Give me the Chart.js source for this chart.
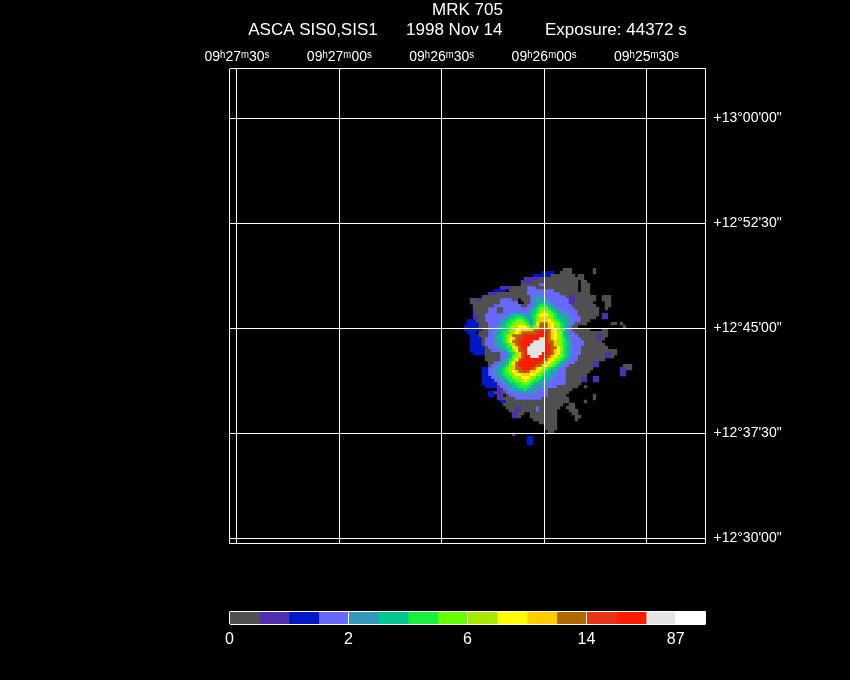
<!DOCTYPE html>
<html>
<head>
<meta charset="utf-8">
<title>MRK 705</title>
<script src="https://cdn.jsdelivr.net/npm/chart.js@4/dist/chart.umd.min.js"></script>
<style>
  html, body { margin: 0; padding: 0; background: #000; }
  #wrap { position: relative; width: 850px; height: 680px; overflow: hidden; }
  #image, #bar { position: absolute; left: 0; }
  #image { top: 0; }
  #bar { top: 590px; }
</style>
</head>
<body>
<div id="wrap">
  <canvas id="image" width="850" height="590"></canvas>
  <canvas id="bar" width="850" height="90"></canvas>
</div>
<script>
const titleLines = ["MRK 705", "ASCA SIS0,SIS1      1998 Nov 14         Exposure: 44372 s"];

// axes: RA in seconds after 09h00m, Dec in arcmin after 12d00m
const raTicks = [1650, 1620, 1590, 1560, 1530];
const raLabels = ["09ʰ27ᵐ30ˢ", "09ʰ27ᵐ00ˢ", "09ʰ26ᵐ30ˢ", "09ʰ26ᵐ00ˢ", "09ʰ25ᵐ30ˢ"];
const decTicks = [780, 772.5, 765, 757.5, 750];
const decLabels = ["+13°00'00\"", "+12°52'30\"", "+12°45'00\"", "+12°37'30\"", "+12°30'00\""];

// colour bar
const barColors = ["#505050", "#5030b0", "#0018c8", "#6868ff", "#3498b8", "#00c88c", "#18f040", "#68ff00",
  "#a8e800", "#ffff00", "#ffcc00", "#b06800", "#e83418", "#ff1c00", "#e4e4e4", "#ffffff"];
const barTicks = [0, 4, 8, 12, 15];
const barLabels = ["0", "2", "6", "14", "87"];

// image cells as [row, firstCol, lastCol], one list per colour level
const gray = [[0,33,35],[0,43,43],[1,32,35],[1,43,43],[2,29,36],[2,38,39],[3,25,37],[3,38,39],[4,22,37],[4,39,40],
  [5,19,37],[5,39,41],[6,16,37],[6,39,41],[7,15,37],[7,39,41],[8,10,41],[9,6,41],[9,42,43],[9,46,48],
  [10,2,17],[10,19,41],[10,42,43],[10,46,48],[11,2,17],[11,20,42],[11,47,48],[12,3,43],[12,47,48],[13,3,44],[13,47,47],
  [14,3,44],[15,3,44],[15,46,47],[16,4,43],[16,46,47],[17,4,41],[18,4,40],[18,49,50],[18,52,52],[19,4,37],[19,53,53],
  [20,5,41],[20,46,47],[21,5,45],[21,46,47],[22,5,47],[23,5,46],[24,5,45],[25,6,46],[26,6,47],[27,7,50],[28,7,50],
  [29,7,49],[30,7,46],[31,8,44],[32,8,43],[32,53,55],[33,8,42],[33,53,55],[34,8,41],[35,8,40],[36,8,39],[37,8,39],
  [37,40,40],[38,8,38],[39,10,37],[39,40,40],[40,12,35],[41,13,34],[42,14,33],[42,43,43],[43,13,34],[43,43,43],
  [44,13,34],[44,40,40],[45,13,32],[45,35,36],[46,14,31],[46,34,36],[47,15,30],[47,35,37],[48,16,19],[48,22,30],[48,36,37],
  [49,17,18],[49,22,30],[49,37,38],[50,23,30],[50,37,37],[51,25,30],[52,27,30],[53,27,30],[54,28,29]];
const purple = [[3,20,24],[4,19,22],[6,12,15],[8,8,10],[9,35,36],[10,4,5],[10,35,36],[11,35,36],[14,3,3],[15,3,3],[15,46,47],
  [16,3,4],[16,46,47],[22,44,45],[23,44,45],[28,47,48],[29,47,48],[31,43,44],[32,43,44],[33,52,53],[34,52,53],[35,52,53],
  [36,39,40],[36,43,44],[37,39,40],[37,43,44],[38,11,12],[39,11,12],[40,11,12],[41,10,12],[42,11,12],[43,11,12],
  [46,17,18],[47,17,18],[48,16,17],[49,16,17],[55,16,16]];
const blue = [[1,26,29],[2,23,28],[7,10,13],[17,1,3],[18,1,4],[19,0,4],[20,0,5],[21,1,3],[22,2,4],[23,2,5],[24,2,5],[25,2,5],
  [26,2,6],[27,2,6],[28,3,6],[33,6,8],[34,6,8],[35,6,8],[36,6,9],[37,6,9],[38,6,10],[39,7,10],[41,8,9],[42,8,9],[44,12,13],
  [56,21,22],[57,21,22],[58,21,22]];
const periwinkle = [[5,25,26],[6,21,23],[7,21,29],[8,21,31],[9,22,33],[10,12,15],[10,22,34],[11,12,17],[11,22,34],[12,10,18],[12,21,35],
  [13,8,10],[13,13,36],[14,8,10],[14,13,37],[15,7,37],[16,7,38],[17,7,38],[18,8,36],[19,8,35],[20,8,35],[21,8,36],[22,8,37],
  [23,7,38],[24,7,39],[25,7,39],[26,8,38],[27,9,38],[28,12,38],[29,12,37],[30,12,37],[31,10,36],[32,9,34],[33,8,33],[34,8,33],
  [35,8,33],[36,9,33],[37,10,33],[38,11,33],[39,12,30],[40,13,27],[41,14,27],[42,15,27],[43,17,25],[46,24,24],[47,24,24]];
const teal = [[9,23,26],[10,23,27],[11,23,28],[12,23,29],[13,22,31],[14,22,33],[15,15,34],[16,13,35],[17,12,35],[18,12,35],[19,11,34],
  [20,11,34],[21,10,34],[22,10,35],[23,10,35],[24,10,35],[25,10,35],[26,11,35],[27,12,35],[28,14,35],[29,14,35],[30,13,34],
  [31,12,33],[32,11,32],[33,10,31],[34,10,30],[35,10,30],[36,11,29],[37,12,28],[38,13,27],[39,14,26],[40,15,24],[41,17,23]];
const seaGreen = [[11,25,27],[12,24,28],[13,23,29],[14,22,30],[15,16,19],[15,22,31],[16,15,20],[16,22,32],[17,14,21],[17,23,33],
  [18,13,21],[18,23,33],[19,12,33],[20,12,33],[21,12,33],[22,11,33],[23,11,33],[24,12,34],[25,12,34],[26,13,34],[27,14,34],
  [28,15,34],[29,15,34],[30,14,33],[31,14,32],[32,13,31],[33,12,30],[34,12,28],[35,12,28],[36,13,27],[37,14,25],[38,15,23],
  [39,16,22],[40,18,20]];
const green = [[12,25,27],[13,24,28],[14,24,29],[15,23,30],[16,17,19],[16,23,30],[17,15,20],[17,23,31],[18,14,21],[18,23,32],
  [19,14,32],[20,14,33],[21,13,32],[22,13,32],[23,13,33],[24,13,33],[25,14,33],[26,14,33],[27,15,33],[28,16,33],[29,16,33],
  [30,15,32],[31,15,31],[32,14,30],[33,13,28],[34,13,27],[35,13,26],[36,14,25],[37,15,24],[38,17,22],[39,18,21],[40,20,20]];
const lime = [[13,25,27],[14,25,28],[15,24,29],[16,24,29],[17,17,19],[17,24,30],[18,16,20],[18,24,31],[19,15,21],[19,23,31],
  [20,15,32],[21,15,32],[22,14,32],[23,14,32],[24,14,32],[25,15,32],[26,16,32],[27,16,32],[28,17,32],[29,16,32],[30,16,31],
  [31,15,30],[32,15,29],[33,14,27],[34,14,26],[35,15,25],[36,16,23],[37,17,22],[38,19,21]];
const yellowGreen = [[14,25,27],[15,25,28],[16,25,28],[17,24,29],[18,17,19],[18,24,30],[19,16,21],[19,24,30],[20,16,31],[21,16,31],
  [22,14,31],[23,15,31],[24,15,31],[25,15,31],[26,16,32],[27,17,32],[28,17,31],[29,17,31],[30,17,30],[31,16,29],[32,15,28],
  [33,15,26],[34,15,25],[35,16,24],[36,17,22],[37,19,21]];
const yellow = [[15,25,27],[16,25,27],[17,25,28],[18,24,29],[19,18,20],[19,24,29],[20,17,30],[21,17,30],[22,15,30],[23,15,30],
  [24,15,30],[25,16,30],[26,16,31],[27,17,31],[28,18,31],[29,18,30],[30,17,29],[31,16,28],[32,16,27],[33,16,25],[34,16,24],
  [35,17,23],[36,19,21],[37,20,20]];
const amber = [[16,25,27],[17,25,27],[18,25,28],[19,24,28],[20,19,29],[21,18,29],[22,15,29],[23,16,29],[24,16,30],[25,16,30],
  [26,17,30],[27,18,30],[28,18,30],[29,18,29],[30,18,28],[31,17,27],[32,16,26],[33,16,24],[34,17,23],[35,19,21]];
const brown = [[18,25,27],[19,25,27],[20,23,28],[21,19,28],[22,16,28],[23,17,28],[24,16,29],[25,17,29],[26,18,30],[27,18,29],
  [28,19,29],[29,19,28],[30,18,27],[31,17,26],[32,17,25],[33,17,23],[34,18,21]];
const orangeRed = [[20,25,27],[21,24,27],[22,19,27],[23,18,27],[24,18,27],[25,18,28],[26,19,28],[27,19,28],[28,20,28],[29,20,27],
  [30,19,26],[31,18,25],[32,18,23],[33,19,22],[34,20,20]];
const red = [[21,25,27],[22,20,27],[23,20,27],[24,19,27],[25,19,28],[26,19,28],[27,20,28],[28,20,28],[29,20,27],[30,19,25],
  [31,18,24],[32,18,23],[33,19,21]];
const lightGray = [[23,25,26],[24,23,26],[25,22,26],[26,21,26],[27,21,26],[28,21,25],[29,22,24]];

const levels = [gray, purple, blue, periwinkle, teal, seaGreen, green, lime, yellowGreen, yellow, amber, brown, orangeRed, red, lightGray];

// cell 0,0 of the image and the size of one cell in axis units
const raStart = 1583.02, raStep = 0.879;
const decStart = 769.21, decStep = 0.2143;

function buildDatasets() {
  const cells = {};
  levels.forEach((spans, lvl) => {
    spans.forEach(([row, c0, c1]) => {
      for (let c = c0; c <= c1; c++) cells[row + "," + c] = lvl;
    });
  });
  const points = levels.map(() => []);
  Object.entries(cells).forEach(([key, lvl]) => {
    const [row, col] = key.split(",").map(Number);
    points[lvl].push({ x: raStart - col * raStep, y: decStart - row * decStep });
  });
  return points.map((data, lvl) => ({
    data,
    pointStyle: "rect",
    pointRadius: 2.4,
    pointBorderWidth: 0,
    pointBackgroundColor: barColors[lvl],
    showLine: false
  }));
}

new Chart(document.getElementById("image"), {
  type: "scatter",
  data: { datasets: buildDatasets() },
  options: {
    responsive: false,
    animation: false,
    devicePixelRatio: 1,
    layout: { padding: { left: 229.5, right: 64.5, top: 0, bottom: 46.5 } },
    plugins: {
      legend: { display: false },
      tooltip: { enabled: false },
      title: {
        display: true,
        fullSize: false,
        text: titleLines,
        color: "#fff",
        padding: { top: 0, bottom: 0 },
        font: { family: "Liberation Sans", size: 17, weight: "normal", lineHeight: 1.18 }
      }
    },
    scales: {
      x: {
        type: "linear",
        position: "top",
        reverse: true,
        min: 1512.69,
        max: 1652.17,
        afterBuildTicks: s => { s.ticks = [1652.17, ...raTicks, 1512.69].map(v => ({ value: v })); },
        afterFit: s => { s.height = 28.5; },
        grid: { color: "#fff", lineWidth: 1, drawTicks: false, z: 1 },
        border: { display: false },
        ticks: {
          color: "#fff",
          font: { family: "Liberation Sans", size: 14 },
          padding: 3,
          maxRotation: 0,
          autoSkip: false,
          callback: v => { const i = raTicks.indexOf(v); return i < 0 ? "" : raLabels[i]; }
        }
      },
      y: {
        type: "linear",
        position: "right",
        min: 749.64,
        max: 783.57,
        afterBuildTicks: s => { s.ticks = [749.64, ...decTicks, 783.57].map(v => ({ value: v })); },
        afterFit: s => { s.width = 80; },
        grid: { color: "#fff", lineWidth: 1, drawTicks: false, z: 1 },
        border: { display: false },
        ticks: {
          color: "#fff",
          font: { family: "Liberation Sans", size: 14 },
          padding: 8,
          autoSkip: false,
          callback: v => { const i = decTicks.indexOf(v); return i < 0 ? "" : decLabels[i]; }
        }
      }
    }
  }
});

new Chart(document.getElementById("bar"), {
  type: "bar",
  data: {
    labels: ["counts"],
    datasets: barColors.map(c => ({ data: [1], backgroundColor: c, barPercentage: 1, categoryPercentage: 1 }))
  },
  options: {
    indexAxis: "y",
    responsive: false,
    animation: false,
    devicePixelRatio: 1,
    layout: { padding: { left: 229.5, right: 144.5, top: 21.5, bottom: 0 } },
    plugins: { legend: { display: false }, tooltip: { enabled: false } },
    scales: {
      x: {
        type: "linear",
        stacked: true,
        min: 0,
        max: 16,
        afterBuildTicks: s => { s.ticks = [...barTicks, 16].map(v => ({ value: v })); },
        afterFit: s => { s.height = 56; },
        grid: { color: "#fff", drawTicks: false, z: 1 },
        border: { display: false },
        ticks: {
          color: "#fff",
          font: { family: "Liberation Sans", size: 16 },
          padding: 6,
          maxRotation: 0,
          autoSkip: false,
          callback: v => { const i = barTicks.indexOf(v); return i < 0 ? "" : barLabels[i]; }
        }
      },
      y: {
        type: "category",
        stacked: true,
        offset: true,
        grid: { color: "#fff", offset: true, drawTicks: false, z: 1 },
        border: { display: false },
        ticks: { display: false }
      }
    }
  }
});
</script>
</body>
</html>
